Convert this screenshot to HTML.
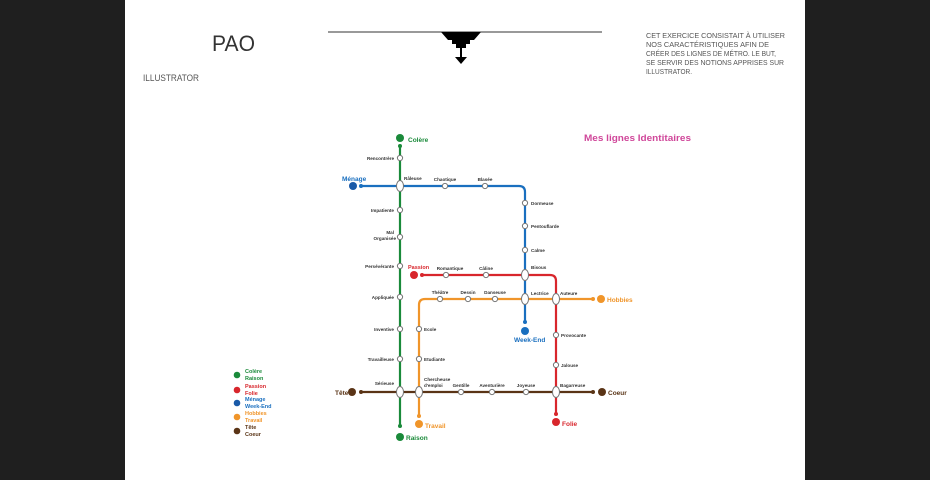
<!DOCTYPE html>
<html><head><meta charset="utf-8"><style>
html,body{margin:0;padding:0;width:930px;height:480px;background:#1f1f1f;overflow:hidden}
svg{display:block}
text{font-family:"Liberation Sans",sans-serif}
.s{font-size:4.6px;fill:#333;font-weight:bold}
</style></head><body>
<svg width="930" height="480" viewBox="0 0 930 480" xmlns="http://www.w3.org/2000/svg">
<rect x="125" y="0" width="680" height="480" fill="#fff"/>
<!-- header -->
<text x="212" y="51" font-size="22" fill="#333" textLength="43" lengthAdjust="spacingAndGlyphs">PAO</text>
<text x="143" y="81" font-size="9" fill="#555" textLength="56" lengthAdjust="spacingAndGlyphs">ILLUSTRATOR</text>
<line x1="328" y1="32" x2="602" y2="32" stroke="#333" stroke-width="1"/>
<polygon points="441,32 481,32 474,40 470,40 470,44 466,44 466,48 456,48 456,44 452,44 452,40 448,40" fill="#000"/>
<rect x="460" y="48" width="2" height="9" fill="#000"/>
<polygon points="455,57 467,57 461,64" fill="#000"/>
<g font-size="7.4" fill="#555">
<text x="646" y="38" textLength="139" lengthAdjust="spacingAndGlyphs">CET EXERCICE CONSISTAIT À UTILISER</text>
<text x="646" y="47" textLength="123" lengthAdjust="spacingAndGlyphs">NOS CARACTÉRISTIQUES AFIN DE</text>
<text x="646" y="56" textLength="130" lengthAdjust="spacingAndGlyphs">CRÉER DES LIGNES DE MÉTRO. LE BUT,</text>
<text x="646" y="65" textLength="138" lengthAdjust="spacingAndGlyphs">SE SERVIR DES NOTIONS APPRISES SUR</text>
<text x="646" y="74" textLength="46" lengthAdjust="spacingAndGlyphs">ILLUSTRATOR.</text>
</g>
<text x="584" y="141" font-size="9.5" font-weight="bold" fill="#d0479a" textLength="107" lengthAdjust="spacingAndGlyphs">Mes lignes Identitaires</text>
<!-- lines -->
<g fill="none" stroke-width="2.2">
<path d="M400,146 V426" stroke="#1a8a3a"/>
<path d="M361,186 H519 Q525,186 525,192 V322" stroke="#1a6fbf"/>
<path d="M422,275 H550 Q556,275 556,281 V414" stroke="#d8262c"/>
<path d="M593,299 H425 Q419,299 419,305 V416" stroke="#f0952a"/>
<path d="M361,392 H593" stroke="#5a3416"/>
</g>
<!-- termini -->
<g>
<circle cx="400" cy="138" r="4" fill="#1a8a3a"/><circle cx="400" cy="146" r="2" fill="#1a8a3a"/>
<circle cx="400" cy="437" r="4" fill="#1a8a3a"/><circle cx="400" cy="426" r="2" fill="#1a8a3a"/>
<circle cx="353" cy="186" r="4" fill="#1a5aa8"/><circle cx="361" cy="186" r="2" fill="#1a6fbf"/>
<circle cx="525" cy="331" r="4" fill="#1a6fbf"/><circle cx="525" cy="322" r="2" fill="#1a6fbf"/>
<circle cx="414" cy="275" r="4" fill="#d8262c"/><circle cx="422" cy="275" r="2" fill="#d8262c"/>
<circle cx="556" cy="422" r="4" fill="#d8262c"/><circle cx="556" cy="414" r="2" fill="#d8262c"/>
<circle cx="601" cy="299" r="4" fill="#f0952a"/><circle cx="593" cy="299" r="2" fill="#f0952a"/>
<circle cx="419" cy="424" r="4" fill="#f0952a"/><circle cx="419" cy="416" r="2" fill="#f0952a"/>
<circle cx="352" cy="392" r="4" fill="#5a3416"/><circle cx="361" cy="392" r="2" fill="#5a3416"/>
<circle cx="602" cy="392" r="4" fill="#5a3416"/><circle cx="593" cy="392" r="2" fill="#5a3416"/>
</g>
<!-- terminus labels -->
<g font-size="6.5" font-weight="bold">
<text x="408" y="142" fill="#1a8a3a">Colère</text>
<text x="406" y="440" fill="#1a8a3a">Raison</text>
<text x="342" y="181" fill="#1a6fbf">Ménage</text>
<text x="514" y="342" fill="#1a6fbf">Week-End</text>
<text x="408" y="269" font-size="5.5" fill="#d8262c">Passion</text>
<text x="562" y="426" fill="#d8262c">Folie</text>
<text x="607" y="302" fill="#f0952a">Hobbies</text>
<text x="425" y="428" fill="#f0952a">Travail</text>
<text x="335" y="395" fill="#5a3416">Tête</text>
<text x="608" y="395" fill="#5a3416">Coeur</text>
</g>
<!-- stations -->
<g fill="#fff" stroke="#777" stroke-width="1">
<circle cx="400" cy="158" r="2.6"/><circle cx="400" cy="210" r="2.6"/><circle cx="400" cy="237" r="2.6"/>
<circle cx="400" cy="266" r="2.6"/><circle cx="400" cy="297" r="2.6"/><circle cx="400" cy="329" r="2.6"/>
<circle cx="400" cy="359" r="2.6"/>
<circle cx="445" cy="186" r="2.6"/><circle cx="485" cy="186" r="2.6"/>
<circle cx="525" cy="203" r="2.6"/><circle cx="525" cy="226" r="2.6"/><circle cx="525" cy="250" r="2.6"/>
<circle cx="446" cy="275" r="2.6"/><circle cx="486" cy="275" r="2.6"/>
<circle cx="556" cy="335" r="2.6"/><circle cx="556" cy="365" r="2.6"/>
<circle cx="440" cy="299" r="2.6"/><circle cx="468" cy="299" r="2.6"/><circle cx="495" cy="299" r="2.6"/>
<circle cx="419" cy="329" r="2.6"/><circle cx="419" cy="359" r="2.6"/>
<circle cx="461" cy="392" r="2.6"/><circle cx="492" cy="392" r="2.6"/><circle cx="526" cy="392" r="2.6"/>
<ellipse cx="400" cy="186" rx="3.5" ry="5.5"/><ellipse cx="400" cy="392" rx="3.5" ry="5.5"/>
<ellipse cx="525" cy="275" rx="3.5" ry="5.5"/><ellipse cx="525" cy="299" rx="3.5" ry="5.5"/>
<ellipse cx="556" cy="299" rx="3.5" ry="5.5"/><ellipse cx="556" cy="392" rx="3.5" ry="5.5"/>
<ellipse cx="419" cy="392" rx="3.5" ry="5.5"/>
</g>
<!-- station labels -->
<g>
<text class="s" x="394" y="160" text-anchor="end">Rencontrère</text>
<text class="s" x="404" y="180">Râleuse</text>
<text class="s" x="394" y="212" text-anchor="end">Impatiente</text>
<text class="s" x="394" y="234" text-anchor="end">Mal</text>
<text class="s" x="396" y="240" text-anchor="end">Organisée</text>
<text class="s" x="394" y="268" text-anchor="end">Persévérante</text>
<text class="s" x="394" y="299" text-anchor="end">Appliquée</text>
<text class="s" x="394" y="331" text-anchor="end">Inventive</text>
<text class="s" x="394" y="361" text-anchor="end">Travailleuse</text>
<text class="s" x="394" y="385" text-anchor="end">Sérieuse</text>
<text class="s" x="445" y="181" text-anchor="middle">Chaotique</text>
<text class="s" x="485" y="181" text-anchor="middle">Blasée</text>
<text class="s" x="531" y="205">Dormeuse</text>
<text class="s" x="531" y="228">Pentouflarde</text>
<text class="s" x="531" y="252">Calme</text>
<text class="s" x="531" y="269">Bisous</text>
<text class="s" x="450" y="270" text-anchor="middle">Romantique</text>
<text class="s" x="486" y="270" text-anchor="middle">Câline</text>
<text class="s" x="531" y="295">Lectrice</text>
<text class="s" x="560" y="295">Auteure</text>
<text class="s" x="561" y="337">Provocante</text>
<text class="s" x="561" y="367">Jalouse</text>
<text class="s" x="560" y="387">Bagarreuse</text>
<text class="s" x="440" y="294" text-anchor="middle">Théâtre</text>
<text class="s" x="468" y="294" text-anchor="middle">Dessin</text>
<text class="s" x="495" y="294" text-anchor="middle">Danseuse</text>
<text class="s" x="424" y="331">Ecole</text>
<text class="s" x="424" y="361">Etudiante</text>
<text class="s" x="424" y="381">Chercheuse</text>
<text class="s" x="424" y="387">d'emploi</text>
<text class="s" x="461" y="387" text-anchor="middle">Gentille</text>
<text class="s" x="492" y="387" text-anchor="middle">Aventurière</text>
<text class="s" x="526" y="387" text-anchor="middle">Joyeuse</text>
</g>
<!-- legend -->
<g font-size="5.5" font-weight="bold">
<circle cx="237" cy="375" r="3.3" fill="#1a8a3a"/>
<text x="245" y="373" fill="#1a8a3a">Colère</text><text x="245" y="380" fill="#1a8a3a">Raison</text>
<circle cx="237" cy="390" r="3.3" fill="#d8262c"/>
<text x="245" y="388" fill="#d8262c">Passion</text><text x="245" y="395" fill="#d8262c">Folie</text>
<circle cx="237" cy="403" r="3.3" fill="#1a5aa8"/>
<text x="245" y="401" fill="#1a6fbf">Ménage</text><text x="245" y="408" fill="#1a6fbf">Week-End</text>
<circle cx="237" cy="417" r="3.3" fill="#f0952a"/>
<text x="245" y="415" fill="#f0952a">Hobbies</text><text x="245" y="422" fill="#f0952a">Travail</text>
<circle cx="237" cy="431" r="3.3" fill="#5a3416"/>
<text x="245" y="429" fill="#5a3416">Tête</text><text x="245" y="436" fill="#5a3416">Coeur</text>
</g>
</svg>
</body></html>
